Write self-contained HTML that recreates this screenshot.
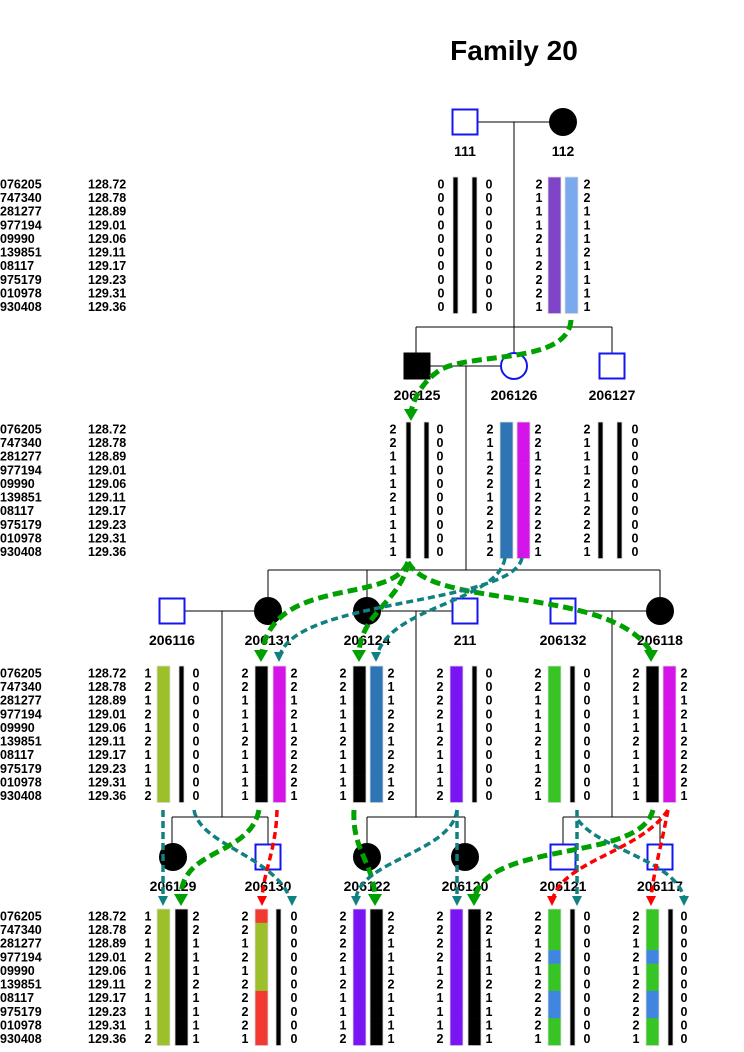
<!DOCTYPE html>
<html><head><meta charset="utf-8"><style>
html,body{margin:0;padding:0;background:#fff;}
svg{display:block;font-family:"Liberation Sans",Arial,sans-serif;font-weight:bold;}
</style></head><body>
<svg id="chart" width="744" height="1052" viewBox="0 0 744 1052" xmlns="http://www.w3.org/2000/svg">
<text x="514" y="60" font-size="28" text-anchor="middle">Family 20</text>
<g id="lines" stroke="#000" stroke-width="1" fill="none">
<path d="M478,122 H550 M514,122 V327 M416,327 H612 M416,327 V353 M514,327 V353 M612,327 V353"/>
<path d="M430,366 H501 M466,366 V570 M268,570 H660 M268,570 V598 M367,570 V598 M660,570 V598"/>
<path d="M184,611 H255 M222,611 V817 M380,611 H452 M416,611 V817 M577,611 H647 M612,611 V817"/>
<path d="M172,817 H268 M172,817 V845 M268,817 V845 M367,817 H465 M367,817 V845 M465,817 V845 M563,817 H660 M563,817 V845 M660,817 V845"/>
</g>
<g id="people"></g>
<g id="haps"></g>
<g id="arrows" fill="none"></g>
</svg>
<script>
// marker names and positions (cM)
const markers=["076205","747340","281277","977194","09990","139851","08117","975179","010978","930408"];
const positions=["128.72","128.78","128.89","129.01","129.06","129.11","129.17","129.23","129.31","129.36"];
// allele data per individual
const a111L=[0,0,0,0,0,0,0,0,0,0], a111R=[0,0,0,0,0,0,0,0,0,0];
const a112L=[2,1,1,1,2,1,2,2,2,1], a112R=[2,2,1,1,1,2,1,1,1,1];
const a206125L=[2,2,1,1,1,2,1,1,1,1], a206125R=[0,0,0,0,0,0,0,0,0,0];
const a206126L=[2,1,1,2,2,1,2,2,1,2], a206126R=[2,2,1,2,1,2,2,2,2,1];
const a206127L=[2,1,1,1,2,1,2,2,2,1], a206127R=[0,0,0,0,0,0,0,0,0,0];
const a206116L=[1,2,1,2,1,2,1,1,1,2], a206116R=[0,0,0,0,0,0,0,0,0,0];
const a206131L=[2,2,1,1,1,2,1,1,1,1], a206131R=[2,2,1,2,1,2,2,2,2,1];
const a206124L=[2,2,1,1,1,2,1,1,1,1], a206124R=[2,1,1,2,2,1,2,2,1,2];
const a211L=[2,2,2,2,1,2,1,1,1,2], a211R=[0,0,0,0,0,0,0,0,0,0];
const a206132L=[2,2,1,1,1,2,1,1,2,1], a206132R=[0,0,0,0,0,0,0,0,0,0];
const a206118L=[2,2,1,1,1,2,1,1,1,1], a206118R=[2,2,1,2,1,2,2,2,2,1];
const a206129L=[1,2,1,2,1,2,1,1,1,2], a206129R=[2,2,1,1,1,2,1,1,1,1];
const a206130L=[2,2,1,2,1,2,2,2,2,1], a206130R=[0,0,0,0,0,0,0,0,0,0];
const a206122L=[2,2,2,2,1,2,1,1,1,2], a206122R=[2,2,1,1,1,2,1,1,1,1];
const a206120L=[2,2,2,2,1,2,1,1,1,2], a206120R=[2,2,1,1,1,2,1,1,1,1];
const a206121L=[2,2,1,2,1,2,2,2,2,1], a206121R=[0,0,0,0,0,0,0,0,0,0];
const a206117L=[2,2,1,2,1,2,2,2,2,1], a206117R=[0,0,0,0,0,0,0,0,0,0];

const NS="http://www.w3.org/2000/svg";
function mk(tag,attrs,parent){const e=document.createElementNS(NS,tag);for(const k in attrs)e.setAttribute(k,attrs[k]);parent.appendChild(e);return e;}
const people=document.getElementById('people'), haps=document.getElementById('haps'), arrows=document.getElementById('arrows');
const STEP=13.62;
const genRow0=[184,429,673,916];

const syms=[["111",465,122,"sq",0],["112",563,122,"ci",1],
["206125",417,366,"sq",1],["206126",514,366,"ci",0],["206127",612,366,"sq",0],
["206116",172,611,"sq",0],["206131",268,611,"ci",1],["206124",367,611,"ci",1],["211",465,611,"sq",0],["206132",563,611,"sq",0],["206118",660,611,"ci",1],
["206129",173,857,"ci",1],["206130",268,857,"sq",0],["206122",367,857,"ci",1],["206120",465,857,"ci",1],["206121",563,857,"sq",0],["206117",660,857,"sq",0]];
syms.forEach(s=>{
  let el;
  if(s[3]=="sq") el=mk('rect',{x:s[1]-12.5,y:s[2]-12.5,width:25,height:25,fill:s[4]?'#000':'#fff',stroke:s[4]?'#000':'#1515f0','stroke-width':2},people);
  else el=mk('circle',{cx:s[1],cy:s[2],r:13,fill:s[4]?'#000':'#fff',stroke:s[4]?'#000':'#1515f0','stroke-width':2},people);
  
  
  const t=mk('text',{x:s[1],y:s[2]+34,'font-size':14,'text-anchor':'middle'},people);
  t.textContent=s[0];
  
  
});

genRow0.forEach((y0,g)=>{
  markers.forEach((m,i)=>{
    const t=mk('text',{x:0,y:y0+i*STEP+4.5,'font-size':12.5},haps);t.textContent=m;
    
    
    const p=mk('text',{x:88,y:y0+i*STEP+4.5,'font-size':12.5},haps);p.textContent=positions[i];
    
    
  });
});

function segs(c){return Array.isArray(c)?c:Array(10).fill(c);}
const G='#37c425',B='#4085e0',RD='#f33a32',LI='#9dc02a';
const hapList=[
[0,441,453,5,'#000',472,5,'#000',489,a111L,a111R,'111'],
[0,539,548,13,'#7f44c8',565,13,'#7aa9ee',587,a112L,a112R,'112'],
[1,393,406,5,'#000',424,5,'#000',440,a206125L,a206125R,'206125'],
[1,490,500,13,'#2e75b6',517,13,'#d514ea',538,a206126L,a206126R,'206126'],
[1,587,598,5,'#000',617,5,'#000',635,a206127L,a206127R,'206127'],
[2,148,157,13,LI,179,5,'#000',196,a206116L,a206116R,'206116'],
[2,245,255,13,'#000',273,13,'#d514ea',294,a206131L,a206131R,'206131'],
[2,343,353,13,'#000',370,13,'#2e75b6',391,a206124L,a206124R,'206124'],
[2,440,450,13,'#7b14f5',472,5,'#000',489,a211L,a211R,'211'],
[2,538,548,13,G,570,5,'#000',587,a206132L,a206132R,'206132'],
[2,636,646,13,'#000',663,13,'#d514ea',684,a206118L,a206118R,'206118'],
[3,148,157,13,LI,175,13,'#000',196,a206129L,a206129R,'206129'],
[3,245,255,13,[RD,LI,LI,LI,LI,LI,RD,RD,RD,RD],276,5,'#000',294,a206130L,a206130R,'206130'],
[3,343,353,13,'#7b14f5',370,13,'#000',391,a206122L,a206122R,'206122'],
[3,440,450,13,'#7b14f5',468,13,'#000',489,a206120L,a206120R,'206120'],
[3,538,548,13,[G,G,G,B,G,G,B,B,G,G],570,5,'#000',587,a206121L,a206121R,'206121'],
[3,636,646,13,[G,G,G,B,G,G,B,B,G,G],668,5,'#000',684,a206117L,a206117R,'206117']];
hapList.forEach(h=>{
  const y0=genRow0[h[0]];
  [[h[2],h[3],h[4],'left'],[h[5],h[6],h[7],'right']].forEach(b=>{
    const cols=segs(b[2]);
    const g=mk('g',{},haps);
    
    
    cols.forEach((c,i)=>{
      const top=i==0?y0-7:y0+i*STEP-STEP/2, bot=i==9?y0+9*STEP+7:y0+i*STEP+STEP/2;
      mk('rect',{x:b[0],y:top,width:b[1],height:bot-top+0.3,fill:c},g);
    });
    mk('rect',{x:b[0],y:y0-7,width:b[1],height:9*STEP+14,fill:'none',stroke:'#ddd','stroke-width':0.8},g);
  });
  h[9].forEach((v,i)=>{
    const t=mk('text',{x:h[1],y:y0+i*STEP+4.5,'font-size':12.5,'text-anchor':'middle'},haps);t.textContent=v;
    
    
  });
  h[10].forEach((v,i)=>{
    const t=mk('text',{x:h[8],y:y0+i*STEP+4.5,'font-size':12.5,'text-anchor':'middle'},haps);t.textContent=v;
    
    
  });
});

const arrowPaths=[
["M571,320 C568,365 470,352 440,370 C422,382 414,398 411,412",'#00a000',5,411,421],
["M408,562 C392,605 275,575 262,652",'#00a000',5,261,662],
["M408,562 C402,600 362,612 359,652",'#00a000',5,359,662],
["M408,562 C432,610 610,585 651,652",'#00a000',5,651,662],
["M505,558 C498,602 392,605 377,655",'#118080',3.5,376,662],
["M522,558 C512,605 298,598 280,655",'#118080',3.5,279,662],
["M163,810 L163,898",'#118080',3.5,163,906],
["M194,810 C200,845 272,855 290,898",'#118080',3.5,292,906],
["M259,810 C250,856 182,848 181,896",'#00a000',5,181,906],
["M277,810 C276,850 264,870 262,898",'#f00',3.5,262,906],
["M354,810 C352,850 372,860 375,896",'#00a000',5,375,906],
["M457,810 C452,852 362,860 356,898",'#118080',3.5,356,906],
["M457,810 L457,898",'#118080',3.5,457,906],
["M577,810 L577,898",'#118080',3.5,577,906],
["M578,820 C600,850 675,860 684,898",'#118080',3.5,684,906],
["M653,810 C640,862 492,840 475,896",'#00a000',5,474,906],
["M668,810 C640,852 565,860 553,898",'#f00',3.5,552,906],
["M668,810 C660,852 654,870 651,898",'#f00',3.5,651,906]];
arrowPaths.forEach((a,i)=>{
  const p=mk('path',{d:a[0],stroke:a[1],'stroke-width':a[2],'stroke-dasharray':a[2]>4?'10,5':'7,4',fill:'none'},arrows);
  
  
  const s=a[2]>4?7:5, L=a[2]>4?12:10;
  const h=mk('polygon',{points:(a[3]-s)+','+(a[4]-L)+' '+(a[3]+s)+','+(a[4]-L)+' '+a[3]+','+a[4],fill:a[1]},arrows);
  
  
});
</script>
</body></html>
